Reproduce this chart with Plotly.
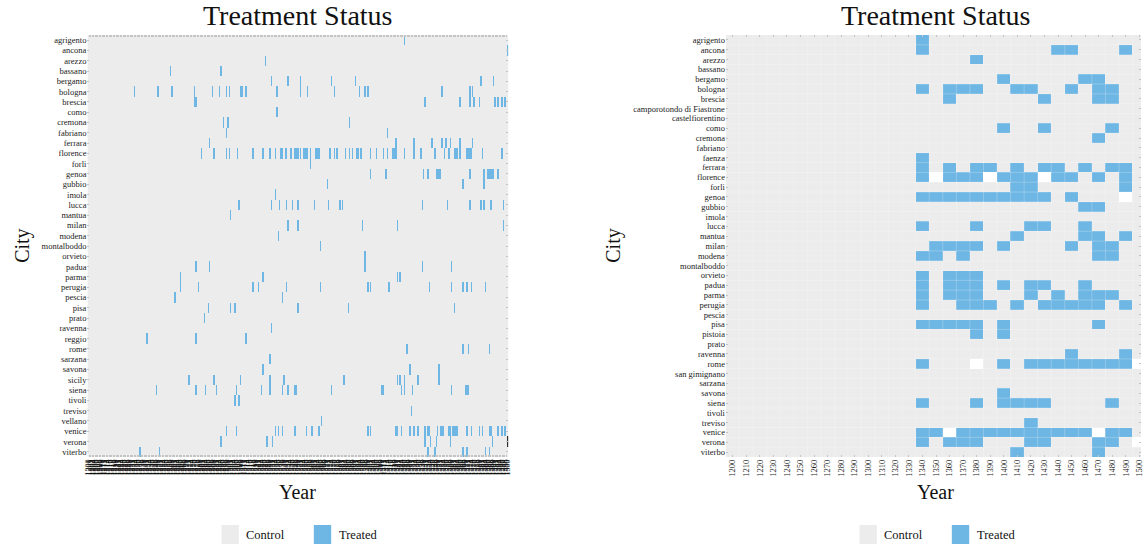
import numpy as np
import plotly.graph_objects as go

# ---------------- annual panel ----------------
cities_annual = [
    "agrigento", "ancona", "arezzo", "bassano", "bergamo", "bologna", "brescia",
    "como", "cremona", "fabriano", "ferrara", "florence", "forli", "genoa",
    "gubbio", "imola", "lucca", "mantua", "milan", "modena", "montalboddo",
    "orvieto", "padua", "parma", "perugia", "pescia", "pisa", "prato",
    "ravenna", "reggio", "rome", "sarzana", "savona", "sicily", "siena",
    "tivoli", "treviso", "vellano", "venice", "verona", "viterbo",
]
years = list(range(1200, 1501))

treated_annual = {
    "agrigento": [1426],
    "ancona": [1500],
    "arezzo": [1327],
    "bassano": [1259, 1295],
    "bergamo": [1331, 1343, 1352, 1374, 1391, 1481, 1490],
    "bologna": [1233, 1250, 1260, 1276, 1289, 1294, 1299, 1301, 1309, 1310,
                1313, 1335, 1352, 1357, 1376, 1394, 1398, 1400, 1453, 1473, 1475],
    "brescia": [1276, 1277, 1441, 1466, 1473, 1476, 1480, 1491, 1493, 1496, 1498],
    "como": [1335],
    "cremona": [1297, 1300, 1387],
    "fabriano": [1299, 1414],
    "ferrara": [1287, 1420, 1433, 1446, 1453, 1456, 1459, 1466, 1475],
    "florence": [1281, 1290, 1299, 1301, 1307, 1318, 1325, 1330, 1334, 1338,
                 1339, 1341, 1342, 1345, 1348, 1349, 1350, 1352, 1354, 1355,
                 1356, 1357, 1359, 1363, 1364, 1365, 1373, 1376, 1378, 1384,
                 1387, 1389, 1392, 1393, 1395, 1402, 1406, 1411, 1414, 1418,
                 1419, 1420, 1426, 1433, 1438, 1448, 1455, 1458, 1462, 1463,
                 1464, 1466, 1471, 1472, 1473, 1474, 1482, 1496],
    "forli": [1359],
    "genoa": [1402, 1413, 1440, 1443, 1449, 1450, 1451, 1452, 1473, 1483,
              1486, 1487, 1488, 1489, 1490, 1493],
    "gubbio": [1371, 1468, 1483],
    "imola": [1334],
    "lucca": [1308, 1331, 1337, 1342, 1346, 1350, 1362, 1372, 1380, 1382,
              1439, 1457, 1473, 1481, 1483, 1488, 1497],
    "mantua": [1302],
    "milan": [1343, 1350, 1396, 1421, 1497],
    "modena": [1336],
    "montalboddo": [1366],
    "orvieto": [1398],
    "padua": [1277, 1287, 1398, 1439, 1460],
    "parma": [1266, 1325, 1421, 1423],
    "perugia": [1266, 1279, 1318, 1322, 1342, 1366, 1400, 1402, 1415, 1444,
                1460, 1468, 1471, 1474, 1484],
    "pescia": [1262, 1339],
    "pisa": [1286, 1302, 1305, 1350, 1386, 1462],
    "prato": [1283],
    "ravenna": [1331],
    "reggio": [1242, 1277, 1313],
    "rome": [1428, 1468, 1472, 1487],
    "sarzana": [1330],
    "savona": [1325, 1430, 1451],
    "sicily": [1272, 1290, 1309, 1330, 1340, 1383, 1421, 1423, 1426, 1436, 1451],
    "siena": [1249, 1277, 1284, 1292, 1306, 1324, 1330, 1339, 1343, 1348,
              1349, 1374, 1410, 1411, 1424, 1426, 1432, 1460, 1470, 1471, 1472],
    "tivoli": [1305, 1308],
    "treviso": [1431],
    "vellano": [1367],
    "venice": [1299, 1306, 1334, 1336, 1339, 1348, 1356, 1360, 1365, 1400,
               1402, 1420, 1421, 1424, 1430, 1433, 1436, 1441, 1443, 1444,
               1450, 1452, 1453, 1454, 1458, 1459, 1461, 1462, 1463, 1464,
               1471, 1474, 1480, 1482, 1487, 1488, 1493, 1496, 1498],
    "verona": [1295, 1328, 1332, 1441, 1445, 1449, 1459, 1489],
    "viterbo": [1237, 1251, 1443, 1448, 1468, 1471, 1484, 1487],
}
other_annual = {"verona": [1500]}

# ---------------- decade panel ----------------
cities_decade = [
    "agrigento", "ancona", "arezzo", "bassano", "bergamo", "bologna", "brescia",
    "camporotondo di Fiastrone", "castelfiorentino", "como", "cremona",
    "fabriano", "faenza", "ferrara", "florence", "forli", "genoa", "gubbio",
    "imola", "lucca", "mantua", "milan", "modena", "montalboddo", "orvieto",
    "padua", "parma", "perugia", "pescia", "pisa", "pistoia", "prato",
    "ravenna", "rome", "san gimignano", "sarzana", "savona", "siena",
    "tivoli", "treviso", "venice", "verona", "viterbo",
]
decades = list(range(1200, 1510, 10))

treated_decade = {
    "agrigento": [1340],
    "ancona": [1340, 1440, 1450, 1490],
    "arezzo": [1380],
    "bergamo": [1400, 1460, 1470],
    "bologna": [1340, 1360, 1370, 1380, 1410, 1420, 1450, 1470, 1480],
    "brescia": [1360, 1430, 1470, 1480],
    "como": [1400, 1430, 1480],
    "cremona": [1470],
    "faenza": [1340],
    "ferrara": [1340, 1360, 1380, 1390, 1410, 1430, 1440, 1460, 1480, 1490],
    "florence": [1340, 1360, 1370, 1380, 1400, 1410, 1420, 1440, 1450, 1470, 1490],
    "forli": [1410, 1420, 1490],
    "genoa": [1340, 1350, 1360, 1370, 1380, 1390, 1400, 1410, 1420, 1430, 1450],
    "gubbio": [1460, 1470],
    "lucca": [1340, 1380, 1420, 1430, 1460],
    "mantua": [1410, 1460, 1470, 1490],
    "milan": [1350, 1360, 1370, 1380, 1400, 1450, 1470, 1480],
    "modena": [1340, 1350, 1370, 1470, 1480],
    "orvieto": [1340, 1360, 1370, 1380],
    "padua": [1340, 1360, 1370, 1380, 1400, 1420, 1430, 1460],
    "parma": [1340, 1360, 1370, 1380, 1420, 1440, 1460, 1470, 1480],
    "perugia": [1340, 1370, 1380, 1390, 1410, 1430, 1440, 1450, 1460, 1470, 1490],
    "pisa": [1340, 1350, 1360, 1370, 1380, 1400, 1470],
    "pistoia": [1380, 1400],
    "ravenna": [1450, 1490],
    "rome": [1340, 1400, 1420, 1430, 1440, 1450, 1460, 1470, 1480, 1490],
    "savona": [1400],
    "siena": [1340, 1380, 1400, 1410, 1420, 1430, 1480],
    "treviso": [1420],
    "venice": [1340, 1350, 1370, 1380, 1390, 1400, 1410, 1420, 1430, 1440,
               1450, 1460, 1480, 1490],
    "verona": [1340, 1360, 1370, 1380, 1420, 1430, 1470, 1480],
    "viterbo": [1410, 1470],
}
missing_decade = {
    "florence": [1350, 1390, 1430],
    "genoa": [1490],
    "rome": [1380, 1500],
    "venice": [1360, 1470],
    "verona": [1500],
}

status_labels = ["Control", "Treated"]

# ---------------- styling ----------------
FONT = "Liberation Serif"
CONTROL = "#ECECEC"
TREATED = "#6EB6E4"
OTHER = "#2E2E2E"
W, H = 1145, 549


def build_matrix(rows, cols, treated, missing=None, other=None):
    z = np.zeros((len(rows), len(cols)))
    col_idx = {c: j for j, c in enumerate(cols)}
    for i, r in enumerate(rows):
        for c in treated.get(r, []):
            z[i, col_idx[c]] = 1
        for c in (other or {}).get(r, []):
            z[i, col_idx[c]] = 2
        for c in (missing or {}).get(r, []):
            z[i, col_idx[c]] = np.nan
    return z


z_annual = build_matrix(cities_annual, years, treated_annual, other=other_annual)
z_decade = build_matrix(cities_decade, decades, treated_decade, missing=missing_decade)

colorscale = [
    [0.0, CONTROL], [0.25, CONTROL],
    [0.25, TREATED], [0.75, TREATED],
    [0.75, OTHER], [1.0, OTHER],
]

fig = go.Figure()
fig.add_trace(go.Heatmap(
    z=z_annual, x=years, y=cities_annual, xaxis="x", yaxis="y",
    colorscale=colorscale, zmin=0, zmax=2, showscale=False, hoverongaps=False,
))
fig.add_trace(go.Heatmap(
    z=z_decade, x=decades, y=cities_decade, xaxis="x2", yaxis="y2",
    colorscale=colorscale, zmin=0, zmax=2, showscale=False, hoverongaps=False,
))

top_px, bottom_px = 35, 457
y_dom = [1 - bottom_px / H, 1 - top_px / H]
left_dom = [84 / W, 508 / W]
right_left_px = 727
decade_px = 13.65
right_dom = [right_left_px / W, 1.0]
right_range = [decades[0] - 5, decades[0] - 5 + (W - right_left_px) / decade_px * 10]

tick_common = dict(
    ticks="inside", ticklen=2, tickcolor="#C4C4C4", mirror="ticks",
    showgrid=False, zeroline=False, showline=False,
)

fig.update_layout(
    width=W, height=H,
    margin=dict(l=0, r=0, t=0, b=0),
    paper_bgcolor="white", plot_bgcolor="white",
    font=dict(family=FONT, color="#222"),
    showlegend=False,
    xaxis=dict(domain=left_dom, anchor="y", range=[years[0] - 0.5, years[-1] + 0.5],
               tickmode="array", tickvals=years, ticktext=[str(y) for y in years],
               tickangle=-90, tickfont=dict(size=8, color="#111"), **tick_common),
    yaxis=dict(domain=y_dom, anchor="x", type="category", autorange="reversed",
               tickmode="array", tickvals=cities_annual, ticktext=cities_annual,
               tickfont=dict(size=8.5, color="#222"), **tick_common),
    xaxis2=dict(domain=right_dom, anchor="y2", range=right_range,
                tickmode="array", tickvals=decades, ticktext=[str(d) for d in decades],
                tickangle=-90, tickfont=dict(size=8.5, color="#222"), **tick_common),
    yaxis2=dict(domain=y_dom, anchor="x2", type="category", autorange="reversed",
                tickmode="array", tickvals=cities_decade, ticktext=cities_decade,
                tickfont=dict(size=8.5, color="#222"), **tick_common),
)

# faint tile borders on the decade grid
border = dict(color="rgba(255,255,255,0.35)", width=0.7)
shapes = []
for d in decades[:-1]:
    shapes.append(dict(type="line", xref="x2", yref="y2 domain", x0=d + 5, x1=d + 5,
                       y0=0, y1=1, line=border, layer="above"))
for i in range(len(cities_decade) - 1):
    shapes.append(dict(type="line", xref="x2 domain", yref="y2", x0=0, x1=1,
                       y0=i + 0.5, y1=i + 0.5, line=border, layer="above"))

annotations = []
panel_centers = [(left_dom[0] + left_dom[1]) / 2 * W, (right_left_px + 1150) / 2]
city_x = [18, 613]


def label(text, x_px, y_px, size, **kw):
    return dict(text=text, x=x_px / W, y=1 - y_px / H, xref="paper", yref="paper",
                showarrow=False, yanchor="middle",
                font=dict(size=size, color="#111", family=FONT), **kw)


for cx, yx in zip(panel_centers, city_x):
    annotations.append(label("Treatment Status", cx, 16, 28, xanchor="center"))
    annotations.append(label("Year", cx, 492, 20, xanchor="center"))
    annotations.append(label("City", yx, 246, 20, xanchor="center", textangle=-90))
    # legend: swatch + label for each status
    for k, (lab, col) in enumerate(zip(status_labels, [CONTROL, TREATED])):
        sx = cx - 77 + k * 93
        shapes.append(dict(type="rect", xref="paper", yref="paper",
                           x0=sx / W, x1=(sx + 17.5) / W,
                           y0=1 - 544 / H, y1=1 - 525 / H,
                           fillcolor=col, line=dict(width=0)))
        annotations.append(label(lab, sx + 23, 535, 12.5, xanchor="left"))

fig.update_layout(shapes=shapes, annotations=annotations)
fig.write_html("out.html")
